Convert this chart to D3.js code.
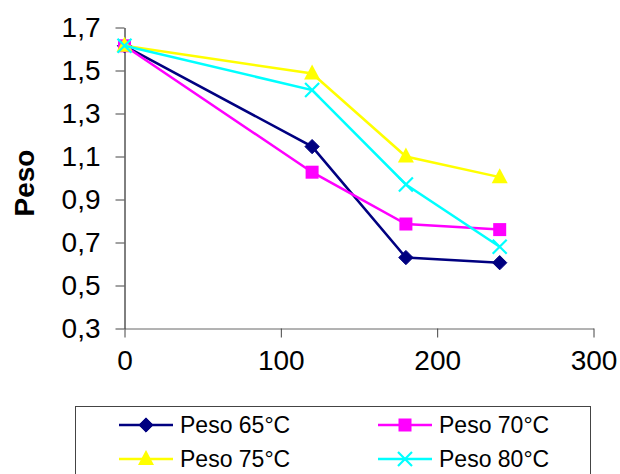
<!DOCTYPE html>
<html><head><meta charset="utf-8">
<script src="https://cdn.jsdelivr.net/npm/d3@7"></script>
<style>body{margin:0;background:#fff}svg{display:block}text{font-family:Arial,"Liberation Sans",sans-serif}</style>
</head><body>
<svg id="c" width="620" height="474"></svg>
<script>
const times = [0, 120, 180, 240];
const peso65 = [1.615, 1.146, 0.630, 0.606];
const peso70 = [1.615, 1.027, 0.786, 0.760];
const peso75 = [1.615, 1.486, 1.100, 1.004];
const peso80 = [1.615, 1.409, 0.970, 0.680];
const seriesNames = ["Peso 65°C", "Peso 70°C", "Peso 75°C", "Peso 80°C"];
const seriesColors = ["#000080", "#FF00FF", "#FFFF00", "#00FFFF"];
const seriesMarkers = ["diamond", "square", "triangle", "x"];
const xTicks = [0, 100, 200, 300];
const yTicks = [0.3, 0.5, 0.7, 0.9, 1.1, 1.3, 1.5, 1.7];
const yTitle = "Peso";

const series = [peso65, peso70, peso75, peso80].map((v, i) => ({
  name: seriesNames[i], color: seriesColors[i], marker: seriesMarkers[i],
  pts: times.map((t, j) => [t, v[j]])
}));

const svg = d3.select("#c");
const x = d3.scaleLinear().domain([0, 300]).range([124.5, 593.5]);
const y = d3.scaleLinear().domain([0.3, 1.7]).range([328.5, 27.5]);
const fmt = d => d3.format(".1f")(d).replace(".", ",");

// axes
const yAxis = svg.append("g").attr("transform", "translate(124.5,0)")
  .call(d3.axisLeft(y).tickValues(yTicks).tickSize(9).tickSizeOuter(0).tickPadding(15).tickFormat(fmt));
const xAxis = svg.append("g").attr("transform", "translate(0,328.5)")
  .call(d3.axisBottom(x).tickValues(xTicks).tickSize(9).tickSizeOuter(0).tickPadding(13).tickFormat(d3.format("d")));
[yAxis, xAxis].forEach(a => {
  a.selectAll("path,line").attr("stroke", "#000").attr("stroke-width", 1);
  a.selectAll("text").attr("font-size", 28).attr("fill", "#000");
});
xAxis.select(".domain").attr("stroke", "#666");
xAxis.selectAll(".tick line").attr("stroke", "#444");
yAxis.selectAll(".tick line").attr("stroke", "#444");

svg.append("text").attr("transform", "translate(34,183) rotate(-90)")
  .attr("text-anchor", "middle").attr("font-size", 28).attr("font-weight", "bold").text(yTitle);

function marker(g, type, color, cx, cy) {
  if (type === "diamond") {
    g.append("path").attr("d", d3.symbol(d3.symbolDiamond2, 130)())
      .attr("transform", `translate(${cx},${cy})`).attr("fill", color).attr("stroke", color).attr("stroke-width", 1);
  } else if (type === "square") {
    g.append("rect").attr("x", cx - 6.5).attr("y", cy - 6.5).attr("width", 13).attr("height", 13).attr("fill", color);
  } else if (type === "triangle") {
    g.append("path").attr("d", `M${cx},${cy - 9}L${cx + 8},${cy + 6}L${cx - 8},${cy + 6}Z`).attr("fill", color);
  } else {
    g.append("path").attr("d", `M${cx - 7},${cy - 7}L${cx + 7},${cy + 7}M${cx - 7},${cy + 7}L${cx + 7},${cy - 7}`)
      .attr("stroke", color).attr("stroke-width", 2.2).attr("fill", "none");
  }
}

const line = d3.line().x(d => x(d[0])).y(d => y(d[1]));
series.forEach(s => {
  const g = svg.append("g");
  g.append("path").attr("d", line(s.pts)).attr("fill", "none").attr("stroke", s.color).attr("stroke-width", 2.5);
  s.pts.forEach(p => marker(g, s.marker, s.color, x(p[0]), y(p[1])));
});

// legend
svg.append("rect").attr("x", 75.5).attr("y", 406.5).attr("width", 515).attr("height", 100)
  .attr("fill", "none").attr("stroke", "#444").attr("stroke-width", 1);
const legPos = [[119, 425], [378, 425], [119, 459], [378, 459]];
series.forEach((s, i) => {
  const [lx, ly] = legPos[i];
  const g = svg.append("g");
  g.append("line").attr("x1", lx).attr("x2", lx + 54).attr("y1", ly).attr("y2", ly).attr("stroke", s.color).attr("stroke-width", 2.5);
  marker(g, s.marker, s.color, lx + 27, ly);
  g.append("text").attr("x", lx + 61).attr("y", ly + 8).attr("font-size", 23).attr("fill", "#000").text(s.name);
});
</script>
</body></html>
